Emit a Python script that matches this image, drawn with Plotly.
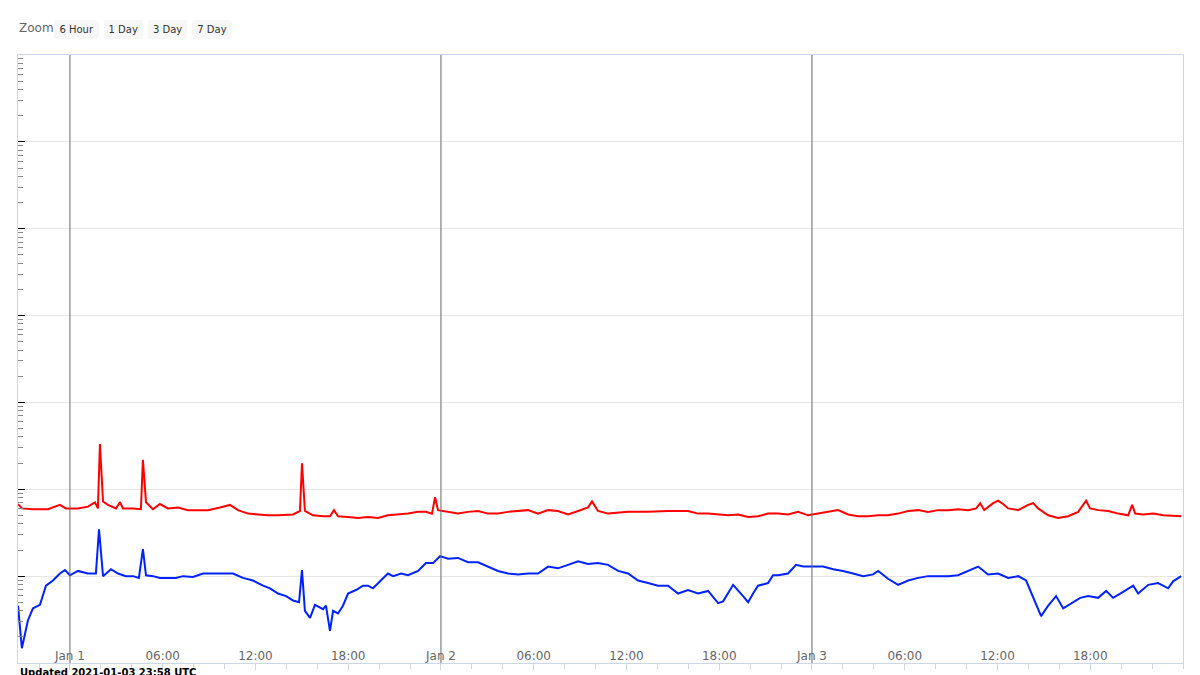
import plotly.graph_objects as go
import pandas as pd

base = pd.Timestamp("2021-01-01 00:00")

# hours since 2021-01-01 00:00 UTC, log10 flux (W/m^2)
short_hours = [-3.36,-3.11,-2.72,-2.39,-1.94,-1.55,-1.10,-0.65,-0.32,0,0.52,1.16,1.68,1.88,2.14,2.65,3.11,3.62,4.08,4.46,4.72,4.92,5.37,5.82,6.34,6.86,7.31,7.96,8.61,9.25,9.90,10.55,11.19,11.84,12.49,12.94,13.46,13.98,14.43,14.82,15.01,15.20,15.53,15.85,16.37,16.56,16.82,17.02,17.34,17.66,17.99,18.50,18.96,19.28,19.60,19.93,20.25,20.57,20.90,21.42,21.87,22.52,23.03,23.49,23.94,24.46,25.10,25.75,26.40,27.04,27.69,28.34,28.99,29.63,30.28,30.93,31.57,32.22,32.87,33.51,34.16,34.81,35.46,36.10,36.75,37.40,38.04,38.69,39.34,39.98,40.63,41.28,41.93,42.25,42.90,43.54,43.87,44.19,44.51,45.16,45.48,45.81,46.45,46.97,47.43,48.07,48.72,49.37,50.01,50.66,51.31,51.95,52.28,52.92,53.57,54.22,54.87,55.51,56.16,56.81,57.45,58.10,58.42,58.75,59.39,60.04,60.69,61.34,61.85,62.31,62.82,63.28,63.79,64.25,64.76,65.35,65.86,66.51,67.03,67.48,68.13,68.78,69.10,69.75,70.39,71.04,71.36,71.88]
short_log = [-8.34,-8.83,-8.51,-8.37,-8.33,-8.11,-8.05,-7.97,-7.93,-7.99,-7.94,-7.97,-7.97,-7.46,-8.00,-7.92,-7.97,-8.00,-8.00,-8.02,-7.69,-7.99,-8.00,-8.02,-8.02,-8.02,-8.00,-8.01,-7.97,-7.97,-7.97,-7.97,-8.02,-8.05,-8.11,-8.14,-8.20,-8.23,-8.28,-8.30,-7.93,-8.40,-8.48,-8.33,-8.38,-8.34,-8.63,-8.40,-8.43,-8.34,-8.20,-8.16,-8.11,-8.11,-8.14,-8.08,-8.02,-7.97,-8.00,-7.97,-7.99,-7.94,-7.85,-7.85,-7.77,-7.80,-7.79,-7.84,-7.84,-7.89,-7.94,-7.97,-7.98,-7.97,-7.97,-7.89,-7.91,-7.87,-7.83,-7.86,-7.85,-7.87,-7.94,-7.97,-8.05,-8.08,-8.11,-8.11,-8.20,-8.16,-8.20,-8.17,-8.31,-8.29,-8.10,-8.23,-8.30,-8.20,-8.11,-8.08,-7.99,-7.99,-7.97,-7.87,-7.89,-7.89,-7.89,-7.92,-7.94,-7.97,-8.00,-7.98,-7.94,-8.03,-8.10,-8.05,-8.02,-8.00,-8.00,-8.00,-7.99,-7.94,-7.91,-7.89,-7.98,-7.97,-8.02,-8.00,-8.05,-8.25,-8.46,-8.34,-8.23,-8.37,-8.31,-8.25,-8.23,-8.25,-8.17,-8.25,-8.18,-8.11,-8.20,-8.10,-8.08,-8.14,-8.06,-8.00]

long_hours = [-3.36,-3.11,-2.39,-1.42,-0.65,-0.26,0.52,1.16,1.62,1.81,1.94,2.14,2.46,2.98,3.24,3.43,4.08,4.59,4.72,4.92,5.37,5.82,6.34,6.99,7.63,8.28,8.93,9.71,10.35,10.87,11.52,12.16,12.81,13.46,14.43,14.88,15.01,15.20,15.72,16.37,16.82,17.08,17.34,17.99,18.63,19.28,19.93,20.57,21.22,21.87,22.52,23.03,23.42,23.62,23.81,24.46,25.10,25.75,26.40,27.04,27.69,28.34,28.99,29.63,30.28,30.93,31.57,32.22,32.87,33.51,33.77,34.16,34.81,36.10,37.40,38.69,39.98,40.63,41.28,41.93,42.57,43.22,43.87,44.51,45.16,45.81,46.45,47.10,47.75,48.39,49.04,49.69,50.34,50.98,51.63,52.28,52.92,53.57,54.22,54.87,55.51,56.16,56.81,57.45,58.10,58.62,58.88,59.14,59.72,60.04,60.36,60.69,61.34,61.98,62.31,62.63,63.28,63.92,64.57,65.22,65.73,65.99,66.51,67.16,67.81,68.45,68.71,68.91,69.42,70.07,70.72,71.36,71.88]
long_log = [-7.17,-7.22,-7.23,-7.23,-7.18,-7.22,-7.22,-7.20,-7.15,-7.22,-6.48,-7.14,-7.18,-7.22,-7.15,-7.22,-7.22,-7.23,-6.66,-7.15,-7.23,-7.17,-7.22,-7.21,-7.24,-7.24,-7.24,-7.21,-7.18,-7.24,-7.28,-7.29,-7.30,-7.30,-7.29,-7.25,-6.70,-7.25,-7.30,-7.31,-7.31,-7.24,-7.31,-7.32,-7.33,-7.32,-7.33,-7.30,-7.29,-7.28,-7.26,-7.26,-7.28,-7.09,-7.24,-7.26,-7.28,-7.26,-7.25,-7.28,-7.28,-7.26,-7.25,-7.24,-7.28,-7.24,-7.25,-7.29,-7.25,-7.21,-7.14,-7.25,-7.28,-7.26,-7.26,-7.25,-7.25,-7.28,-7.28,-7.29,-7.30,-7.29,-7.32,-7.31,-7.28,-7.28,-7.29,-7.26,-7.30,-7.28,-7.26,-7.24,-7.29,-7.31,-7.31,-7.30,-7.30,-7.28,-7.25,-7.24,-7.26,-7.24,-7.24,-7.23,-7.24,-7.22,-7.16,-7.24,-7.16,-7.13,-7.17,-7.22,-7.24,-7.18,-7.16,-7.22,-7.30,-7.33,-7.31,-7.26,-7.13,-7.22,-7.24,-7.25,-7.28,-7.30,-7.18,-7.28,-7.29,-7.28,-7.30,-7.31,-7.31]

day_marks = ["2021-01-01", "2021-01-02", "2021-01-03"]
class_labels = ["A", "B", "C", "M", "X"]
class_mid_log = [-7.5, -6.5, -5.5, -4.5, -3.5]
y_log_range = [-9, -2]
tick_times = pd.date_range("2021-01-01", "2021-01-03 18:00", freq="6h")
tick_text = [("Jan " + str(t.day)) if t.hour == 0 else t.strftime("%H:%M") for t in tick_times]

def to_time(hrs):
    return [base + pd.Timedelta(hours=h) for h in hrs]

fig = go.Figure()
fig.add_trace(go.Scatter(x=to_time(long_hours), y=[10 ** v for v in long_log], mode="lines",
                         line=dict(color="#ff0000", width=2), name="0.1-0.8 nm"))
fig.add_trace(go.Scatter(x=to_time(short_hours), y=[10 ** v for v in short_log], mode="lines",
                         line=dict(color="#0022ff", width=2), name="0.05-0.4 nm"))

for d in day_marks:
    fig.add_vline(x=pd.Timestamp(d), line=dict(color="#666666", width=1))

span = y_log_range[1] - y_log_range[0]
for lab, m in zip(class_labels, class_mid_log):
    fig.add_annotation(x=1.006, xref="paper", y=(m - y_log_range[0]) / span, yref="paper",
                       text=lab, showarrow=False, xanchor="left", yanchor="middle",
                       font=dict(family="DejaVu Sans Mono", size=12, color="#000"))

fig.add_annotation(x=0, xref="paper", y=-0.004, yref="paper", yanchor="top", xanchor="left",
                   text="<b>Updated 2021-01-03 23:58 UTC</b>", showarrow=False,
                   font=dict(family="DejaVu Sans", size=10, color="#000"))
fig.add_annotation(x=-0.001, xref="paper", y=1.044, yref="paper", xanchor="left", yanchor="middle",
                   text="Zoom", showarrow=False, font=dict(family="DejaVu Sans", size=12, color="#666"))

fig.update_layout(
    width=1200, height=675, margin=dict(l=10, r=25, t=47, b=20, autoexpand=False),
    paper_bgcolor="white", plot_bgcolor="white", showlegend=False,
    font=dict(family="DejaVu Sans"),
    xaxis=dict(range=[base - pd.Timedelta(hours=3.36), pd.Timestamp("2021-01-04 00:00")],
               tickvals=list(tick_times), ticktext=tick_text, showgrid=False,
               ticks="outside", ticklen=6, tickcolor="#ccd6eb", ticklabelposition="inside",
               tickfont=dict(size=12, color="#666"),
               showline=True, linecolor="#ccd6eb", mirror=True,
               minor=dict(dtick=2 * 3600 * 1000, ticks="outside", ticklen=5, tickcolor="#ccd6eb"),
               rangeselector=dict(
                   x=0.031, y=1.058, xanchor="left", yanchor="top",
                   bgcolor="#f7f7f7", activecolor="#e6ebf5",
                   font=dict(size=10, color="#333"),
                   buttons=[dict(count=6, label="6 Hour", step="hour", stepmode="backward"),
                            dict(count=1, label="1 Day", step="day", stepmode="backward"),
                            dict(count=3, label="3 Day", step="day", stepmode="backward"),
                            dict(count=7, label="7 Day", step="day", stepmode="backward")])),
    yaxis=dict(type="log", range=y_log_range, showticklabels=False,
               showgrid=True, gridcolor="#e6e6e6", dtick=1,
               ticks="inside", ticklen=7, tickcolor="#000",
               minor=dict(ticks="inside", ticklen=5, tickcolor="#888", showgrid=False),
               showline=True, linecolor="#ccd6eb", mirror=True, zeroline=False),
)

fig.write_html("out.html")
